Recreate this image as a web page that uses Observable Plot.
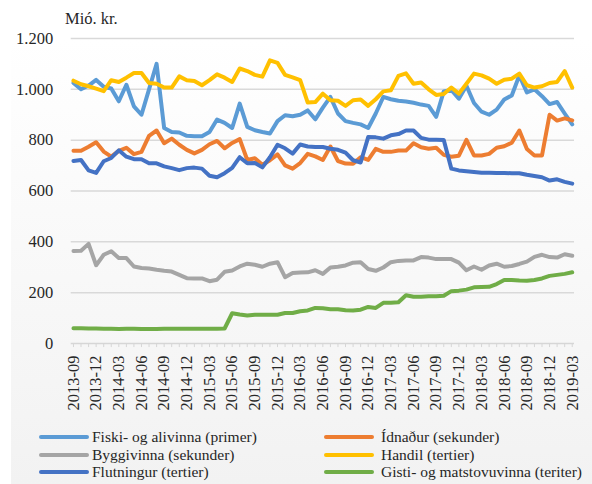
<!DOCTYPE html>
<html><head><meta charset="utf-8">
<script src="https://cdn.jsdelivr.net/npm/d3@7"></script>
<script src="https://cdn.jsdelivr.net/npm/@observablehq/plot@0.6"></script>
<style>
body{margin:0;background:#fff;}
#wrap{position:relative;width:592px;height:484px;overflow:hidden;font-family:"Liberation Serif",serif;color:#262626;}
#bg{position:absolute;left:11px;top:0;right:0;bottom:0;background:linear-gradient(#ffffff 0%,#ffffff 8%,#f2f2f2 100%);}
#title{position:absolute;left:65px;top:9px;font-size:16.5px;line-height:20px;}
#chart{position:absolute;left:0;top:0;}
.item{position:absolute;font-size:15.5px;white-space:nowrap;line-height:18px;}
.sw{position:absolute;height:4px;border-radius:2px;}
</style></head>
<body>
<div id="wrap"><div id="bg"></div><div id="chart"></div><div id="title">Mió. kr.</div><div id="legend"></div></div>
<script>
const months = ["2013-09","2013-10","2013-11","2013-12",
"2014-01","2014-02","2014-03","2014-04","2014-05","2014-06","2014-07","2014-08","2014-09","2014-10","2014-11","2014-12",
"2015-01","2015-02","2015-03","2015-04","2015-05","2015-06","2015-07","2015-08","2015-09","2015-10","2015-11","2015-12",
"2016-01","2016-02","2016-03","2016-04","2016-05","2016-06","2016-07","2016-08","2016-09","2016-10","2016-11","2016-12",
"2017-01","2017-02","2017-03","2017-04","2017-05","2017-06","2017-07","2017-08","2017-09","2017-10","2017-11","2017-12",
"2018-01","2018-02","2018-03","2018-04","2018-05","2018-06","2018-07","2018-08","2018-09","2018-10","2018-11","2018-12",
"2019-01","2019-02","2019-03"];
const tickLabels = ["2013-09","2013-12","2014-03","2014-06","2014-09","2014-12","2015-03","2015-06","2015-09","2015-12","2016-03","2016-06","2016-09","2016-12","2017-03","2017-06","2017-09","2017-12","2018-03","2018-06","2018-09","2018-12","2019-03"];
const yTicks = [0,200,400,600,800,1000,1200];

const seriesNames = ["Fiski- og alivinna (primer)","Ídnaður (sekunder)","Byggivinna (sekunder)","Handil (tertier)","Flutningur (tertier)","Gisti- og matstovuvinna (teriter)"];
const seriesColors = ["#5B9BD5","#ED7D31","#A5A5A5","#FFC000","#4472C4","#70AD47"];

const fiski = [1025,1000,1015,1037,1010,1003,953,1018,933,900,
 1000,1100,848,832,830,817,815,815,832,881,
 868,848,944,852,839,832,826,875,898,894,
 900,917,882,928,970,905,875,868,862,848,
 905,970,961,955,952,947,940,935,892,992,
 998,963,1014,946,912,900,920,960,976,1055,
 988,1000,973,942,950,905,862];
const idnadur = [758,758,774,792,755,735,758,770,745,754,
 817,838,788,806,782,762,748,762,784,797,
 768,789,804,722,729,703,721,744,701,688,
 710,746,736,722,775,718,708,707,733,722,
 766,754,754,759,759,788,772,766,770,742,
 735,739,801,740,740,746,770,776,790,838,
 765,740,740,900,877,886,878];
const byggivinna = [364,365,392,308,349,363,336,336,303,297,
 295,290,286,283,270,257,256,256,245,251,
 282,287,303,314,310,302,314,320,261,277,
 279,280,288,274,299,302,307,318,320,293,
 286,299,320,325,327,327,340,338,332,332,
 332,318,288,303,290,307,314,302,305,313,
 322,341,349,340,338,351,345];
const handil = [1034,1020,1012,1003,993,1036,1029,1046,1064,1064,
 1025,1022,1007,1007,1051,1036,1033,1016,1036,1059,
 1046,1029,1082,1072,1057,1050,1114,1104,1057,1047,
 1036,948,950,983,957,955,935,957,960,935,
 961,992,996,1053,1063,1022,1027,1000,978,982,
 1007,983,1022,1062,1055,1042,1022,1038,1042,1062,
 1016,1007,1012,1025,1029,1072,1007];
const flutningur = [718,722,681,671,717,730,760,735,725,725,
 709,709,697,690,682,690,692,688,660,654,
 670,691,733,709,710,693,733,782,768,747,
 783,775,773,773,766,762,751,721,712,812,
 811,806,819,824,838,838,809,802,802,801,
 688,681,678,675,672,672,671,671,670,670,
 664,659,654,641,646,636,629];
const gisti = [60,60,59,59,58,58,57,58,58,57,
 57,57,58,58,58,58,58,58,58,58,
 59,119,114,110,113,113,113,113,120,120,
 127,130,140,139,135,135,131,130,133,144,
 140,160,160,162,190,184,184,186,186,188,
 206,208,212,221,222,223,234,250,250,248,
 247,250,256,266,270,274,280];

const seriesValues = [fiski, idnadur, byggivinna, handil, flutningur, gisti];
const tickSet = new Set(tickLabels);
const fmt = d => d3.format(",")(d).replace(/,/g, ".");

const lineMarks = seriesValues.map((vals, s) =>
  Plot.line(vals.map((v, i) => ({m: months[i], v})), {
    x: "m", y: "v", stroke: seriesColors[s], strokeWidth: 4,
    strokeLinejoin: "round", strokeLinecap: "round"
  }));

const chart = Plot.plot({
  width: 592, height: 430,
  marginTop: 38, marginBottom: 87, marginLeft: 70.7, marginRight: 18,
  style: {background: "transparent", fontFamily: "'Liberation Serif', serif", fontSize: "16.5px", color: "#262626"},
  x: {type: "point", domain: months, padding: 0.3},
  y: {domain: [0, 1200]},
  marks: [
    Plot.gridY(yTicks.filter(d => d > 0), {stroke: "#d9d9d9", strokeOpacity: 1, strokeWidth: 1.5}),
    Plot.ruleY([0], {stroke: "#d6d6d6", strokeWidth: 1.5}),
    Plot.ruleX(months, {x: d => d, y1: 0, y2: -16, stroke: "#d6d6d6", strokeWidth: 1}),
    Plot.axisY(yTicks, {tickSize: 0, tickPadding: 18, tickFormat: fmt, label: null, fill: "#262626"}),
    Plot.axisX(tickLabels, {tickSize: 0, tickPadding: 12, tickRotate: -90, label: null, fill: "#262626"}),
    ...lineMarks
  ]
});
document.getElementById("chart").appendChild(chart);

const legend = document.getElementById("legend");
seriesNames.forEach((name, k) => {
  const col = k % 2, row = Math.floor(k / 2);
  const cy = 437 + row * 17.5;
  const sw = document.createElement("div");
  sw.className = "sw";
  sw.style.left = (col ? 324 : 39) + "px";
  sw.style.width = "50px";
  sw.style.top = (cy - 2) + "px";
  sw.style.background = seriesColors[k];
  legend.appendChild(sw);
  const t = document.createElement("div");
  t.className = "item";
  t.style.left = (col ? 381 : 92) + "px";
  t.style.top = (cy - 9) + "px";
  t.textContent = name;
  legend.appendChild(t);
});
</script>
</body></html>
